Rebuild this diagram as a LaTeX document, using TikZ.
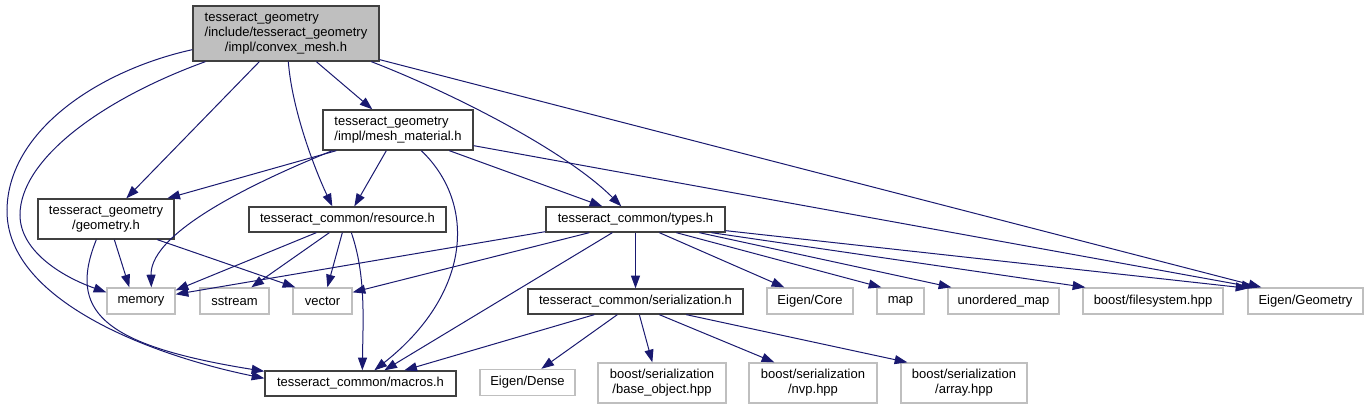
\documentclass[tikz,border=0pt]{standalone}
\usepackage{fontspec}
\setmainfont{Liberation Sans}
\usetikzlibrary{arrows.meta,calc}
\definecolor{edgeblue}{HTML}{191970}
\definecolor{docborder}{HTML}{404040}
\definecolor{extborder}{HTML}{BFBFBF}
\definecolor{topfill}{HTML}{BFBFBF}
\newcommand{\labtwo}[2]{\begin{tabular}{@{}l@{}}#1\\\multicolumn{1}{@{}c@{}}{#2}\end{tabular}}
\newcommand{\labthree}[3]{\begin{tabular}{@{}l@{}}#1\\#2\\\multicolumn{1}{@{}c@{}}{#3}\end{tabular}}
\begin{document}
\begin{tikzpicture}[x=0.75pt,y=-0.75pt,
  box/.style 2 args={rectangle, inner sep=0pt, minimum width=#1*0.75pt, minimum height=#2*0.75pt,
    font=\fontsize{9.75}{11.25}\selectfont, line width=1pt, fill=white},
  docnode/.style={draw=docborder},
  extnode/.style={draw=extborder},
  dep/.style={draw=edgeblue, line width=0.75pt, -{Triangle[length=9.5pt,width=6.75pt]}}]
\fill[white] (0,0) rectangle (1368,409);
\useasboundingbox (0,0) rectangle (1368,409);

% nodes
\node[box={186}{55},docnode,fill=topfill] (cm) at (286,33.5) {\labthree{tesseract\_geometry}{/include/tesseract\_geometry}{/impl/convex\_mesh.h}};
\node[box={150}{40},docnode] (mm) at (398,130) {\labtwo{tesseract\_geometry}{/impl/mesh\_material.h}};
\node[box={136}{40},docnode] (geo) at (106,219) {\labtwo{tesseract\_geometry}{/geometry.h}};
\node[box={197}{25},docnode] (res) at (347.5,219.5) {tesseract\_common/resource.h};
\node[box={179}{25},docnode] (types) at (635.5,219.5) {tesseract\_common/types.h};
\node[box={68}{26},extnode] (memory) at (141,301) {memory};
\node[box={69}{26},extnode] (sstream) at (234.5,301) {sstream};
\node[box={59}{26},extnode] (vector) at (322.5,301) {vector};
\node[box={191}{25},docnode] (macros) at (360.5,383.5) {tesseract\_common/macros.h};
\node[box={215}{25},docnode] (ser) at (635.5,301.5) {tesseract\_common/serialization.h};
\node[box={86}{26},extnode] (core) at (810,301) {Eigen/Core};
\node[box={47}{26},extnode] (map) at (900.5,301) {map};
\node[box={111}{26},extnode] (umap) at (1003.5,301) {unordered\_map};
\node[box={140}{26},extnode] (fs) at (1153,301) {boost/filesystem.hpp};
\node[box={115}{26},extnode] (geom) at (1305.5,301) {Eigen/Geometry};
\node[box={95}{26},extnode] (dense) at (527.5,382.5) {Eigen/Dense};
\node[box={128}{40},extnode] (base) at (662,383) {\labtwo{boost/serialization}{/base\_object.hpp}};
\node[box={128}{40},extnode] (nvp) at (813,383) {\labtwo{boost/serialization}{/nvp.hpp}};
\node[box={126}{40},extnode] (array) at (964,383) {\labtwo{boost/serialization}{/array.hpp}};

% convex_mesh.h
\draw[dep] ($(cm.south west)+(0,-12)$) .. controls (100,70) and (8,130) .. (7,210) .. controls (6,300) and (150,355) .. ($(macros.north west)+(0,8)$);
\draw[dep] ($(cm.south west)+(13,0)$) .. controls (100,100) and (20,160) .. (20,215) .. controls (20,250) and (60,276) .. ($(memory.north west)+(0,5)$);
\draw[dep] ($(cm.south west)+(67,0)$) -- ($(geo.north west)+(89,0)$);
\draw[dep] ($(cm.south west)+(96,0)$) .. controls (292,110) and (315,170) .. ($(res.north west)+(84,0)$);
\draw[dep] ($(cm.south west)+(124,0)$) -- ($(mm.north west)+(50,0)$);
\draw[dep] ($(cm.south west)+(179,0)$) .. controls (450,92) and (565,150) .. ($(types.north west)+(76,0)$);
\draw[dep] ($(cm.south east)+(0,-2)$) -- ($(geom.north west)+(14,0)$);

% mesh_material.h
\draw[dep] ($(mm.south west)+(14,0)$) -- ($(geo.north west)+(130,0)$);
\draw[dep] ($(mm.south west)+(10,0)$) .. controls (265,178) and (150,230) .. ($(memory.north west)+(45,0)$);
\draw[dep] ($(mm.south west)+(64,0)$) -- ($(res.north west)+(106,0)$);
\draw[dep] ($(mm.south west)+(99,0)$) .. controls (478,205) and (470,295) .. ($(macros.north west)+(110,0)$);
\draw[dep] ($(mm.south west)+(127,0)$) -- ($(types.north west)+(57,0)$);
\draw[dep] ($(mm.south east)+(0,-5)$) -- ($(geom.north west)+(7,0)$);

% geometry.h
\draw[dep] ($(geo.south west)+(77,0)$) -- ($(memory.north west)+(23,0)$);
\draw[dep] ($(geo.south west)+(120,0)$) -- ($(vector.north west)+(3,0)$);
\draw[dep] ($(geo.south west)+(59,0)$) .. controls (68,310) and (100,345) .. ($(macros.north west)+(0,1)$);

% resource.h
\draw[dep] ($(res.south west)+(68,0)$) -- ($(memory.north east)+(0,3)$);
\draw[dep] ($(res.south west)+(81,0)$) -- ($(sstream.north west)+(52,0)$);
\draw[dep] ($(res.south west)+(94,0)$) -- ($(vector.north west)+(35,0)$);
\draw[dep] ($(res.south west)+(103,0)$) .. controls (366,275) and (363,320) .. ($(macros.north west)+(98,0)$);

% types.h
\draw[dep] ($(types.south west)+(0,-1)$) -- ($(memory.north east)+(0,7)$);
\draw[dep] ($(types.south west)+(44,0)$) -- ($(vector.north east)+(0,5)$);
\draw[dep] ($(types.south west)+(67,0)$) -- ($(macros.north west)+(120,0)$);
\draw[dep] (types.south) -- (ser.north);
\draw[dep] ($(types.south west)+(114,0)$) -- ($(core.north west)+(18,0)$);
\draw[dep] ($(types.south west)+(131,0)$) -- ($(map.north west)+(5,0)$);
\draw[dep] ($(types.south west)+(154,0)$) -- ($(umap.north west)+(4,0)$);
\draw[dep] ($(types.south west)+(166,0)$) -- ($(fs.north west)+(3,0)$);
\draw[dep] ($(types.south east)+(0,-2)$) -- ($(geom.north west)+(1,1)$);

% serialization.h
\draw[dep] ($(ser.south west)+(67,0)$) -- ($(macros.north west)+(140,0)$);
\draw[dep] ($(ser.south west)+(90,0)$) -- ($(dense.north west)+(62,0)$);
\draw[dep] ($(ser.south west)+(112,0)$) -- ($(base.north west)+(55,0)$);
\draw[dep] ($(ser.south west)+(132,0)$) -- ($(nvp.north west)+(26,0)$);
\draw[dep] ($(ser.south west)+(159,0)$) -- ($(array.north west)+(7,0)$);
\end{tikzpicture}
\end{document}
